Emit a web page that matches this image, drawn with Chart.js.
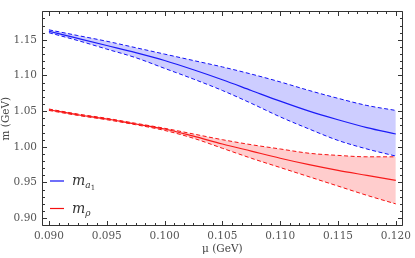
<!DOCTYPE html>
<html>
<head>
<meta charset="utf-8">
<script src="https://cdn.jsdelivr.net/npm/chart.js@4.4.1/dist/chart.umd.min.js"></script>
<style>
  html, body { margin: 0; padding: 0; background: #fff; }
  canvas { display: block; }
</style>
</head>
<body>
<canvas id="massChart" width="415" height="258"></canvas>
<script>
// renormalisation scale mu (GeV)
const mu = [0.090, 0.0925, 0.095, 0.0975, 0.100, 0.1025, 0.105, 0.1075, 0.110, 0.1125, 0.115, 0.1175, 0.120];

// a1 mass band (GeV)
const a1Central = [1.162, 1.152, 1.142, 1.132, 1.121, 1.108, 1.094, 1.079, 1.064, 1.050, 1.038, 1.027, 1.018];
const a1Upper   = [1.164, 1.156, 1.148, 1.139, 1.130, 1.121, 1.112, 1.102, 1.091, 1.079, 1.068, 1.058, 1.051];
const a1Lower   = [1.160, 1.149, 1.137, 1.125, 1.110, 1.095, 1.079, 1.061, 1.042, 1.025, 1.009, 0.997, 0.987];

// rho mass band (GeV)
const rhoCentral = [1.052, 1.045, 1.039, 1.032, 1.025, 1.015, 1.004, 0.994, 0.984, 0.975, 0.967, 0.960, 0.953];
const rhoUpper   = [1.053, 1.046, 1.040, 1.033, 1.026, 1.018, 1.010, 1.003, 0.997, 0.991, 0.988, 0.986, 0.986];
const rhoLower   = [1.051, 1.044, 1.038, 1.031, 1.023, 1.012, 0.998, 0.984, 0.971, 0.958, 0.945, 0.932, 0.920];

// tick labels
const xTicks = [0.090, 0.095, 0.100, 0.105, 0.110, 0.115, 0.120];
const yTicks = [0.90, 0.95, 1.00, 1.05, 1.10, 1.15];

const BLUE = '#1010f5';
const RED = '#f51010';

function pts(ys) {
    return mu.map((m, i) => ({ x: m, y: ys[i] }));
}

function band(data, color, fill, dashed, fillTarget) {
    return {
        data: pts(data),
        borderColor: color,
        borderWidth: dashed ? 1 : 1.2,
        borderDash: dashed ? [4, 2.5] : [],
        backgroundColor: fill,
        fill: fillTarget,
        pointRadius: 0,
        cubicInterpolationMode: 'monotone'
    };
}

// cadre + graduations vers l'intérieur
const frameTicks = {
    id: 'frameTicks',
    afterDatasetsDraw(chart) {
        const { ctx, chartArea: a, scales: { x, y } } = chart;
        const L = Math.round(a.left) + 0.5, R = Math.round(a.right) - 0.5;
        const T = Math.round(a.top) + 0.5, B = Math.round(a.bottom) - 0.5;
        ctx.save();
        ctx.strokeStyle = '#333';
        ctx.lineWidth = 1;
        ctx.beginPath();
        ctx.rect(L, T, R - L, B - T);
        ctx.stroke();

        ctx.beginPath();
        // x ticks (6 subdivisions)
        for (let i = 0; i <= 36; i++) {
            const v = 0.090 + i * 0.005 / 6;
            const px = Math.round(x.getPixelForValue(v)) + 0.5;
            const len = i % 6 === 0 ? 4.5 : 2.5;
            ctx.moveTo(px, B); ctx.lineTo(px, B - len);
            ctx.moveTo(px, T); ctx.lineTo(px, T + len);
        }
        // y ticks (0.01 steps)
        for (let i = 0; i <= 30; i++) {
            const v = 0.89 + i * 0.01;
            if (v > y.max) break;
            const py = Math.round(y.getPixelForValue(v)) + 0.5;
            const len = (i - 1) % 5 === 0 ? 4.5 : 2.5;
            ctx.moveTo(L, py); ctx.lineTo(L + len, py);
            ctx.moveTo(R, py); ctx.lineTo(R - len, py);
        }
        ctx.stroke();
        ctx.restore();
    }
};

// légende avec indices
const bandLegend = {
    id: 'bandLegend',
    afterDraw(chart) {
        const { ctx } = chart;
        const rows = [
            { color: BLUE, y: 181, sub: 'a', sub2: '1' },
            { color: RED, y: 208.5, sub: 'ρ', sub2: '' }
        ];
        ctx.save();
        rows.forEach(r => {
            ctx.strokeStyle = r.color;
            ctx.lineWidth = 1.2;
            ctx.beginPath();
            ctx.moveTo(50, r.y); ctx.lineTo(64, r.y);
            ctx.stroke();
            ctx.fillStyle = '#333';
            ctx.textBaseline = 'alphabetic';
            ctx.font = 'italic 14px "DejaVu Serif"';
            ctx.fillText('m', 72, r.y + 4);
            const w = ctx.measureText('m').width;
            ctx.font = 'italic 9px "DejaVu Serif"';
            ctx.fillText(r.sub, 72 + w, r.y + 7);
            if (r.sub2) {
                const w2 = ctx.measureText(r.sub).width;
                ctx.font = '7px "DejaVu Serif"';
                ctx.fillText(r.sub2, 72 + w + w2, r.y + 9);
            }
        });
        ctx.restore();
    }
};

const tickFont = { family: 'DejaVu Serif', size: 10.5 };

new Chart(document.getElementById('massChart'), {
    type: 'line',
    data: {
        datasets: [
            band(a1Lower, BLUE, 'transparent', true, false),
            band(a1Upper, BLUE, 'rgba(60, 60, 255, 0.26)', true, '-1'),
            band(a1Central, BLUE, 'transparent', false, false),
            band(rhoLower, RED, 'transparent', true, false),
            band(rhoUpper, RED, 'rgba(255, 60, 60, 0.26)', true, '-1'),
            band(rhoCentral, RED, 'transparent', false, false)
        ]
    },
    options: {
        responsive: false,
        animation: false,
        devicePixelRatio: 1,
        layout: { padding: { left: 0, right: 9, top: 1, bottom: 0 } },
        plugins: { legend: { display: false }, tooltip: { enabled: false } },
        scales: {
            x: {
                type: 'linear',
                min: 0.0894,
                max: 0.1206,
                afterBuildTicks: s => { s.ticks = xTicks.map(v => ({ value: v })); },
                afterFit: s => { s.height = 32; },
                grid: { display: false, drawTicks: false },
                border: { display: false },
                ticks: {
                    padding: 4,
                    maxRotation: 0,
                    color: '#555',
                    font: tickFont,
                    callback: v => v.toFixed(3)
                },
                title: {
                    display: true,
                    text: 'μ (GeV)',
                    color: '#444',
                    font: tickFont,
                    padding: { top: 0, bottom: 2 }
                }
            },
            y: {
                type: 'linear',
                min: 0.889,
                max: 1.19,
                afterBuildTicks: s => { s.ticks = yTicks.map(v => ({ value: v })); },
                afterFit: s => { s.width = 42; },
                grid: { display: false, drawTicks: false },
                border: { display: false },
                ticks: {
                    padding: 5,
                    color: '#555',
                    font: tickFont,
                    callback: v => v.toFixed(2)
                },
                title: {
                    display: true,
                    text: 'm (GeV)',
                    color: '#444',
                    font: tickFont,
                    padding: { top: 0, bottom: 0 }
                }
            }
        }
    },
    plugins: [frameTicks, bandLegend]
});
</script>
</body>
</html>
